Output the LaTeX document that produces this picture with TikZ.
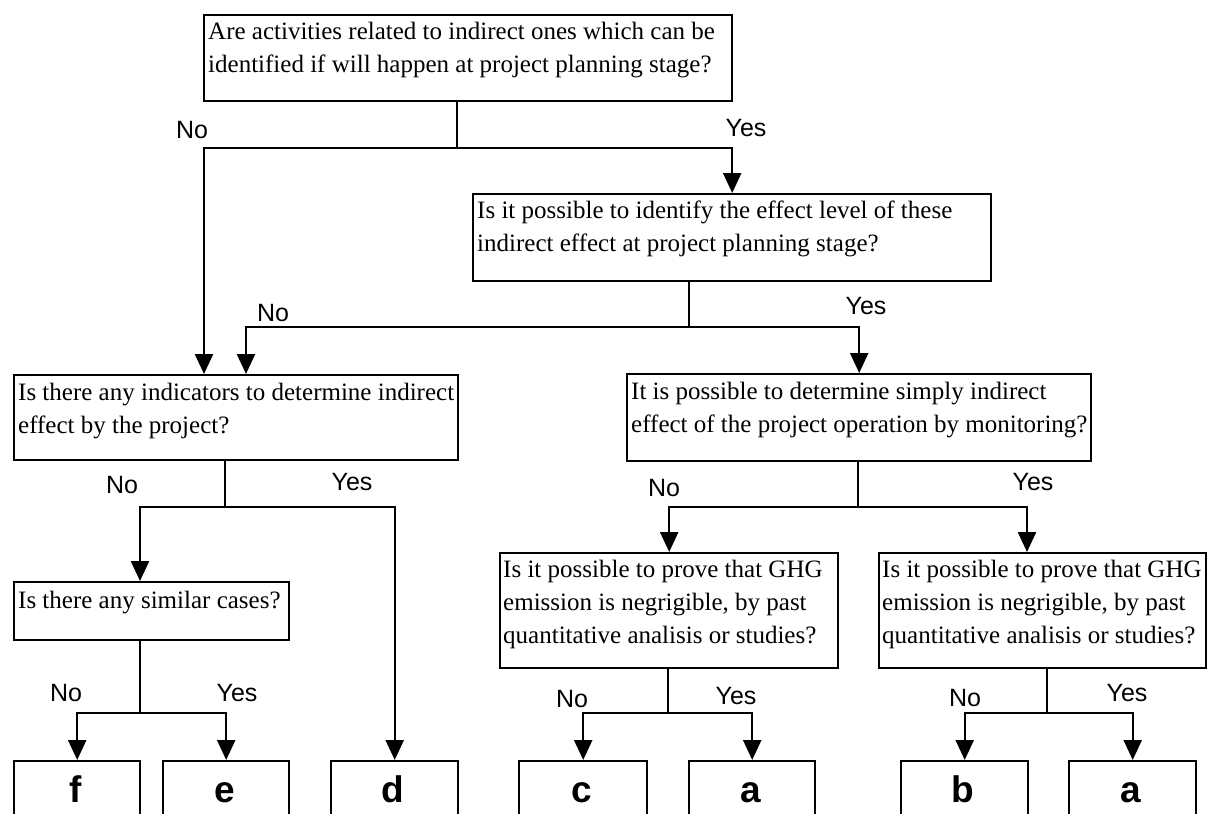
\documentclass[tikz,border=0pt]{standalone}
\usepackage{fontspec}
\setmainfont{Liberation Serif}
\newfontfamily\lblfont{Liberation Sans}
\usetikzlibrary{arrows.meta}
\tikzset{
  box/.style={draw, line width=2.4pt, rectangle, inner sep=0pt, anchor=north west},
  qtext/.style={anchor=base west, inner sep=0pt, font=\fontsize{25}{33}\selectfont},
  yn/.style={font=\lblfont\fontsize{25}{25}\selectfont, inner sep=0pt},
  letter/.style={font=\lblfont\bfseries\fontsize{37}{37}\selectfont, inner sep=0pt, anchor=base},
  ln/.style={line width=2.4pt},
  lnthin/.style={line width=1.4pt},
  arr/.style={line width=2.4pt, -{Triangle[width=18pt,length=20pt]}},
}
\newcommand{\qlines}[1]{\begin{tabular}[t]{@{}l@{}}#1\end{tabular}}
\begin{document}
\begin{tikzpicture}[x=1pt,y=-1pt]
\useasboundingbox (0,0) rectangle (1211,814);
\fill[white] (0,0) rectangle (1211,814);
\clip (0,0) rectangle (1211,814);

% question boxes
\node[box, minimum width=528pt, minimum height=86pt] (b1) at (203,14) {};
\node[box, minimum width=518pt, minimum height=87pt] (b2) at (472,193) {};
\node[box, minimum width=444pt, minimum height=85pt] (b3) at (13,374) {};
\node[box, minimum width=464pt, minimum height=87pt] (b4) at (626,373) {};
\node[box, minimum width=275pt, minimum height=58pt] (b5) at (13,581) {};
\node[box, minimum width=338pt, minimum height=115pt] (b6) at (499,552) {};
\node[box, minimum width=327pt, minimum height=115pt] (b7) at (878,552) {};

% question texts
\node[qtext] (t1) at ([xshift=5pt,yshift=-25pt]b1.north west) {\qlines{Are activities related to indirect ones which can be\\identified if will happen at project planning stage?}};
\node[qtext] (t2) at ([xshift=5pt,yshift=-25pt]b2.north west) {\qlines{Is it possible to identify the effect level of these\\indirect effect at project planning stage?}};
\node[qtext] (t3) at ([xshift=5pt,yshift=-26pt]b3.north west) {\qlines{Is there any indicators to determine indirect\\effect by the project?}};
\node[qtext] (t4) at ([xshift=5pt,yshift=-26pt]b4.north west) {\qlines{It is possible to determine simply indirect\\effect of the project operation by monitoring?}};
\node[qtext] (t5) at ([xshift=5pt,yshift=-27pt]b5.north west) {\qlines{Is there any similar cases?}};
\node[qtext] (t6) at ([xshift=4pt,yshift=-25pt]b6.north west) {\qlines{Is it possible to prove that GHG\\emission is negrigible, by past\\quantitative analisis or studies?}};
\node[qtext] (t7) at ([xshift=4pt,yshift=-25pt]b7.north west) {\qlines{Is it possible to prove that GHG\\emission is negrigible, by past\\quantitative analisis or studies?}};

% result boxes (cut off by the bottom edge)
\node[box, minimum width=126pt, minimum height=100pt] (rf) at (13,760) {};
\node[box, minimum width=126pt, minimum height=100pt] (re) at (162,760) {};
\node[box, minimum width=127pt, minimum height=100pt] (rd) at (330,760) {};
\node[box, minimum width=128pt, minimum height=100pt] (rc) at (518,760) {};
\node[box, minimum width=126pt, minimum height=100pt] (ra1) at (688,760) {};
\node[box, minimum width=127pt, minimum height=100pt] (rb) at (900,760) {};
\node[box, minimum width=127pt, minimum height=100pt] (ra2) at (1068,760) {};

\node[letter] (lf) at (76,802) {f};
\node[letter] (le) at (225,802) {e};
\node[letter] (ld) at (393,802) {d};
\node[letter] (lc) at (582,802) {c};
\node[letter] (la1) at (751,802) {a};
\node[letter] (lb) at (963,802) {b};
\node[letter] (la2) at (1131,802) {a};

% junctions
\coordinate (j1) at (457,148);
\coordinate (k1) at (204,148);
\coordinate (j2) at (689,327);
\coordinate (k2) at (246,327);
\coordinate (j3) at (225,507);
\coordinate (k3) at (140,507);
\coordinate (j4) at (858,507);
\coordinate (k4) at (1027,507);
\coordinate (j5) at (140,713);
\coordinate (j6) at (668,713);
\coordinate (j7) at (1047,713);

% connectors
\draw[ln] (b1.south -| j1) -- (j1);
\draw[arr] (j1) -| (b2.north);
\draw[arr] (j1) -- (k1) -- (k1 |- b3.north);

\draw[lnthin] (b2.south -| j2) -- (j2);
\draw[arr] (j2) -| (b4.north);
\draw[arr] (j2) -- (k2) -- (k2 |- b3.north);

\draw[ln] (b3.south -| j3) -- (j3);
\draw[arr] (j3) -- (k3) -- (k3 |- b5.north);
\draw[arr] (j3) -| (rd.north);

\draw[lnthin] (b4.south -| j4) -- (j4);
\draw[arr] (j4) -| (b6.north);
\draw[arr] (j4) -- (k4) -- (k4 |- b7.north);

\draw[ln] (b5.south -| j5) -- (j5);
\draw[arr] (j5) -| (rf.north);
\draw[arr] (j5) -| (re.north);

\draw[lnthin] (b6.south -| j6) -- (j6);
\draw[arr] (j6) -| (rc.north);
\draw[arr] (j6) -| (ra1.north);

\draw[lnthin] (b7.south -| j7) -- (j7);
\draw[arr] (j7) -| (rb.north);
\draw[arr] (j7) -| (ra2.north);

% labels
\node[yn] (n1) at (192,130) {No};
\node[yn] (y1) at (746,128) {Yes};
\node[yn] (n2) at (273,313) {No};
\node[yn] (y2) at (866,306) {Yes};
\node[yn] (n3) at (122,485) {No};
\node[yn] (y3) at (352,482) {Yes};
\node[yn] (n4) at (664,488) {No};
\node[yn] (y4) at (1033,482) {Yes};
\node[yn] (n5) at (66,693) {No};
\node[yn] (y5) at (237,693) {Yes};
\node[yn] (n6) at (572,699) {No};
\node[yn] (y6) at (736,696) {Yes};
\node[yn] (n7) at (965,698) {No};
\node[yn] (y7) at (1127,693) {Yes};
\end{tikzpicture}
\end{document}
